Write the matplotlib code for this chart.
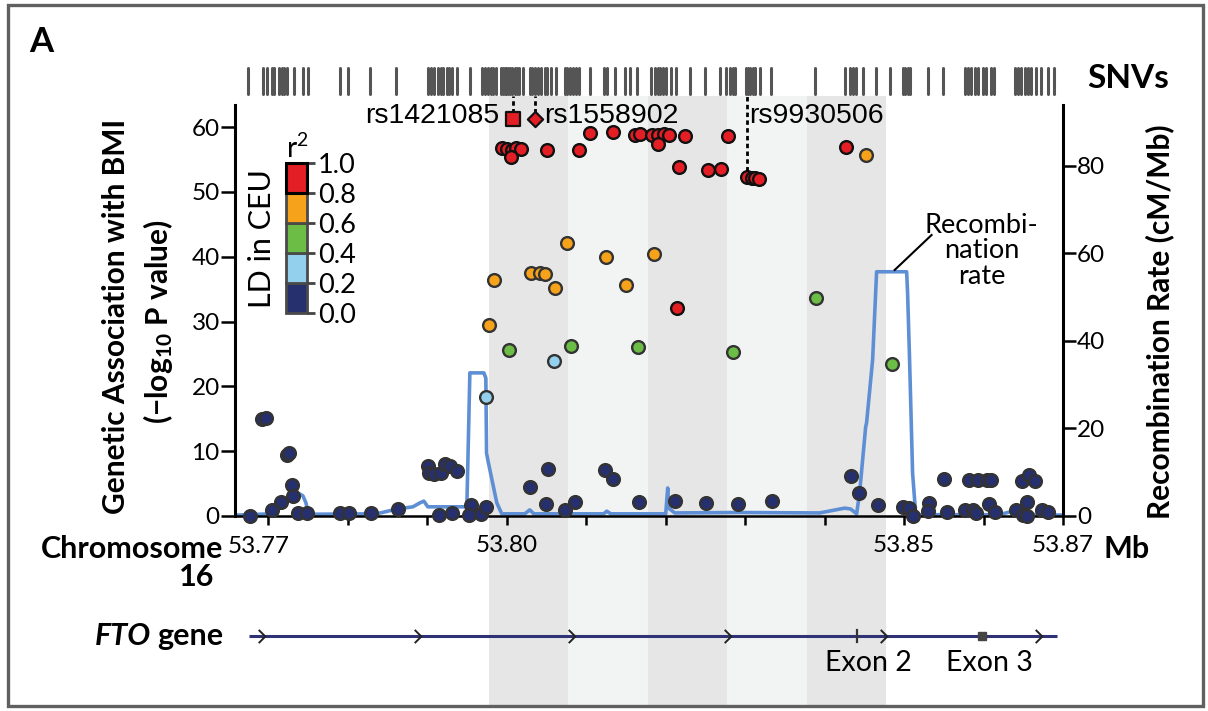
import matplotlib
matplotlib.use("Agg")
import matplotlib.pyplot as plt
from matplotlib.patches import Rectangle
from matplotlib.path import Path
import numpy as np

# ---------------- data ----------------
snv_positions = [53.76746, 53.76935, 53.76977, 53.77040, 53.77069, 53.77136, 53.77166, 53.77195,
                 53.77229, 53.77321, 53.77430, 53.77501, 53.77899, 53.78004, 53.78277, 53.78604,
                 53.79010, 53.79044, 53.79082, 53.79136, 53.79166, 53.79199, 53.79241, 53.79270,
                 53.79304, 53.79367, 53.79535, 53.79682, 53.79723, 53.79765, 53.79795, 53.79828,
                 53.79870, 53.79933, 53.79953, 53.79975, 53.79996, 53.80016, 53.80038, 53.80059,
                 53.80101, 53.80130, 53.80155, 53.80205, 53.80289, 53.80318, 53.80352, 53.80394,
                 53.80436, 53.80478, 53.80507, 53.80562, 53.80616, 53.80730, 53.80759, 53.80792,
                 53.80834, 53.80877, 53.80909, 53.81044, 53.81220, 53.81267, 53.81358, 53.81484,
                 53.81547, 53.81639, 53.81820, 53.81862, 53.81903, 53.81933, 53.81966, 53.82009,
                 53.82063, 53.82135, 53.82302, 53.82491, 53.82679, 53.82764, 53.82805, 53.82847,
                 53.82868, 53.83015, 53.83035, 53.83066, 53.83098, 53.83120, 53.83182, 53.83330,
                 53.83874, 53.84252, 53.84315, 53.84356, 53.84399, 53.84482, 53.84650, 53.84827,
                 53.84985, 53.85015, 53.85048, 53.85078, 53.85300, 53.85488, 53.85761, 53.85803,
                 53.85845, 53.85887, 53.85929, 53.85991, 53.86034, 53.86097, 53.86126, 53.86390,
                 53.86432, 53.86474, 53.86516, 53.86557, 53.86600, 53.86663, 53.86726, 53.86809,
                 53.86893]

# r2 0.8-1.0
red_pos = [53.79937, 53.80000, 53.80063, 53.80113, 53.80176, 53.80050, 53.80503, 53.80906,
           53.81044, 53.81333, 53.81610, 53.81673, 53.81824, 53.81899, 53.81975, 53.82038,
           53.81899, 53.82239, 53.82164, 53.82528, 53.82692, 53.82780, 53.83019, 53.83082,
           53.83120, 53.83170, 53.84264, 53.82138]
red_logp = [56.8, 56.6, 56.5, 56.8, 56.6, 55.4, 56.5, 56.5,
            59.1, 59.3, 58.8, 58.9, 58.8, 58.8, 58.9, 58.8,
            57.4, 58.6, 53.9, 53.4, 53.5, 58.6, 52.3, 52.2,
            52.2, 52.0, 56.9, 32.1]
# r2 0.6-0.8
orange_pos = [53.84516, 53.80755, 53.81245, 53.81849, 53.80302, 53.80415, 53.80478, 53.79836,
              53.80604, 53.81497, 53.79774]
orange_logp = [55.7, 42.1, 40.0, 40.4, 37.5, 37.5, 37.3, 36.4, 35.2, 35.6, 29.5]
# r2 0.4-0.6
green_pos = [53.80025, 53.80805, 53.81648, 53.82843, 53.83887, 53.84843]
green_logp = [25.6, 26.2, 26.1, 25.3, 33.6, 23.5]
# r2 0.2-0.4
lblue_pos = [53.80591, 53.79736]
lblue_logp = [23.9, 18.4]
# r2 0.0-0.2
navy_pos = [53.76767, 53.76918, 53.76968, 53.77233, 53.77258, 53.77296, 53.77157, 53.77044,
            53.77308, 53.77371, 53.77484, 53.77899, 53.78013, 53.78289, 53.78629, 53.79006,
            53.79019, 53.79082, 53.79170, 53.79220, 53.79283, 53.79371, 53.79145, 53.79308,
            53.79547, 53.79522, 53.79673, 53.79736, 53.80289, 53.80516, 53.80491, 53.80730,
            53.80855, 53.81233, 53.81333, 53.81660, 53.82113, 53.82503, 53.82906, 53.83333,
            53.84327, 53.84428, 53.84667, 53.84981, 53.85057, 53.85107, 53.85308, 53.85296,
            53.85497, 53.85535, 53.85811, 53.85925, 53.86038, 53.86088, 53.85761, 53.85862,
            53.85900, 53.86063, 53.86138, 53.86403, 53.86491, 53.86541, 53.86478, 53.86566,
            53.86642, 53.86541, 53.86730, 53.86805]
navy_logp = [0.0, 15.0, 15.1, 9.4, 9.7, 4.8, 2.2, 0.9,
             3.1, 0.5, 0.5, 0.5, 0.5, 0.5, 1.1, 7.7,
             6.6, 6.5, 6.6, 8.0, 7.7, 6.9, 0.2, 0.5,
             1.7, 0.2, 0.3, 1.4, 4.5, 7.3, 1.9, 0.9,
             2.2, 7.1, 5.7, 2.2, 2.3, 2.0, 1.9, 2.3,
             6.2, 3.5, 1.7, 1.4, 1.2, 0.0, 2.0, 0.8,
             5.7, 0.6, 5.6, 5.6, 5.6, 5.6, 0.9, 0.9,
             0.5, 1.9, 0.6, 0.9, 0.2, 0.0, 5.4, 6.3,
             5.4, 2.2, 0.9, 0.6]

lead_names = ["rs1421085", "rs1558902", "rs9930506"]
lead_pos = [53.80075, 53.80352, 53.83019]
lead_logp = [61.3, 61.3, 52.3]

recomb_pos = [53.76591, 53.77044, 53.77145, 53.77220, 53.77296, 53.77396, 53.77434, 53.77472,
              53.77497, 53.77535, 53.78365, 53.78616, 53.78818, 53.78906, 53.78956, 53.79006,
              53.79497, 53.79535, 53.79711, 53.79736, 53.79745, 53.79761, 53.79874, 53.79937,
              53.80226, 53.80289, 53.80340, 53.81220, 53.81258, 53.81308, 53.82000, 53.82025,
              53.82038, 53.82113, 53.82906, 53.83937, 53.84252, 53.84327, 53.84403, 53.84440,
              53.84516, 53.84528, 53.84604, 53.84654, 53.85032, 53.85044, 53.85069, 53.85107,
              53.85145, 53.85195, 53.86201, 53.86365, 53.86453, 53.86994]
recomb_rate = [0.2, 0.5, 1.8, 3.7, 5.3, 5.0, 4.6, 3.0,
               0.9, 0.4, 0.5, 1.6, 2.1, 3.0, 3.4, 2.1,
               2.1, 32.7, 32.7, 31.5, 14.4, 12.8, 3.0, 0.5,
               0.5, 1.4, 0.5, 0.5, 1.1, 0.5, 0.5, 6.4,
               1.8, 0.7, 0.8, 0.7, 1.8, 1.6, 0.5, 5.3,
               20.3, 21.3, 35.7, 55.8, 55.8, 51.0, 35.7, 9.8,
               0.7, 0.3, 0.3, 1.1, 0.4, 0.2]

band_edges = [53.79774, 53.80767, 53.81774, 53.82767, 53.83774, 53.84767]
band_colors = ["#e6e6e6", "#f2f3f3", "#e6e6e6", "#f2f3f3", "#e6e6e6"]

x_ticks = [53.77, 53.78, 53.79, 53.80, 53.81, 53.82, 53.83, 53.84, 53.85, 53.86, 53.87]
x_ticklabels = ["", "", "", "53.80", "", "", "", "", "53.85", "", "53.87"]
y_ticks = [0, 10, 20, 30, 40, 50, 60]
y2_ticks = [0, 20, 40, 60, 80]

gene_start, gene_end = 53.7675, 53.8693
gene_arrows = [53.76918, 53.78881, 53.80818, 53.82780, 53.84742, 53.86704]
exon2_pos, exon3_pos = 53.84403, 53.85975

legend_colors = ["#27306e", "#92d0ee", "#6cbd45", "#f7a21b", "#e31e24"]  # bottom -> top
legend_ticks = [0.0, 0.2, 0.4, 0.6, 0.8, 1.0]
legend_ticklabels = ["0.0", "0.2", "0.4", "0.6", "0.8", "1.0"]

# ---------------- layout ----------------
W, H = 1208, 711
plt.rcParams["font.family"] = ["Lato", "DejaVu Sans"]
plt.rcParams["mathtext.default"] = "regular"
fig = plt.figure(figsize=(W / 100, H / 100), dpi=100)


def fx(px):
    return px / W


def fy(py):
    return 1 - py / H


XMIN, XMAX = 53.76579, 53.87
AX_L, AX_R = 235, 1063
ax_w = fx(AX_R) - fx(AX_L)
BOLD = 21.5

# background bands
bg = fig.add_axes([fx(AX_L), fy(705), ax_w, fy(96) - fy(705)], zorder=-5)
bg.set_xlim(XMIN, XMAX)
bg.axis("off")
for i, c in enumerate(band_colors):
    bg.axvspan(band_edges[i], band_edges[i + 1], color=c, lw=0)

# SNV strip
snv = fig.add_axes([fx(AX_L), fy(96), ax_w, fy(66) - fy(96)], zorder=1)
snv.set_xlim(XMIN, XMAX)
snv.set_ylim(0, 1)
snv.axis("off")
lc = snv.vlines(snv_positions, 0.08, 0.92, color="#555555", lw=2.2)
lc.set_capstyle("round")
fig.text(fx(1087), fy(79), "SNVs", ha="left", va="center", fontsize=24, fontweight="bold")

# main axes
ax = fig.add_axes([fx(AX_L), fy(516), ax_w, fy(105) - fy(516)], zorder=3)
ax.patch.set_visible(False)
ax2 = ax.twinx()
ax2.set_zorder(2)
ax2.patch.set_visible(False)
ax.set_xlim(XMIN, XMAX)
ax.set_ylim(0, 63.4)
ax2.set_ylim(0, 93.9)

ax2.plot(recomb_pos, recomb_rate, color="#5e8fd4", lw=2.6, solid_joinstyle="round")

ms = 84
ax.scatter(navy_pos, navy_logp, s=ms, c="#27306e", edgecolors="#333333", linewidths=1.7, clip_on=False, zorder=3)
ax.scatter(lblue_pos, lblue_logp, s=ms, c="#92d0ee", edgecolors="#333333", linewidths=1.7, clip_on=False, zorder=4)
ax.scatter(green_pos, green_logp, s=ms, c="#6cbd45", edgecolors="#333333", linewidths=1.7, clip_on=False, zorder=4)
ax.scatter(orange_pos, orange_logp, s=ms, c="#f7a21b", edgecolors="#333333", linewidths=1.7, clip_on=False, zorder=4)
ax.scatter(red_pos, red_logp, s=ms, c="#e31e24", edgecolors="#111111", linewidths=1.7, clip_on=False, zorder=5)

# lead SNVs
ax.scatter([lead_pos[0]], [lead_logp[0]], marker="s", s=95, c="#e31e24", edgecolors="#111111",
           linewidths=1.6, clip_on=False, zorder=6)
ax.scatter([lead_pos[1]], [lead_logp[1]], marker="D", s=60, c="#e31e24", edgecolors="#111111",
           linewidths=1.6, clip_on=False, zorder=6)
top_y = 64.8
for p, v in zip(lead_pos, lead_logp):
    ax.plot([p, p], [v + 0.9, top_y], color="black", lw=2, ls=(0, (1.6, 1.2)), clip_on=False, zorder=5)
RS = 20.5
ax.annotate(lead_names[0], xy=(lead_pos[0], 61.7), xytext=(-10, 0), textcoords="offset points",
            ha="right", va="center", fontsize=RS, family=["Liberation Sans"], annotation_clip=False)
ax.annotate(lead_names[1], xy=(lead_pos[1], 61.7), xytext=(7, 0), textcoords="offset points",
            ha="left", va="center", fontsize=RS, family=["Liberation Sans"], annotation_clip=False)
ax.annotate(lead_names[2], xy=(lead_pos[2], 61.7), xytext=(2, 0), textcoords="offset points",
            ha="left", va="center", fontsize=RS, family=["Liberation Sans"], annotation_clip=False)

# recombination label
ax2.text(53.85975, 60.6, "Recombi-\nnation\nrate", ha="center", va="center", fontsize=19.5,
         linespacing=1.02)
ax2.plot([53.84881, 53.85346], [56.2, 64.2], color="black", lw=1.5)

# axes styling
ax.spines["top"].set_visible(False)
ax2.spines["top"].set_visible(False)
ax.spines["right"].set_visible(False)
ax2.spines["left"].set_visible(False)
ax2.spines["bottom"].set_visible(False)
ax.spines["left"].set_linewidth(2.2)
ax.spines["bottom"].set_linewidth(1.8)
ax2.spines["right"].set_linewidth(2.2)

ax.set_xticks(x_ticks)
ax.set_xticklabels(x_ticklabels)
ax.set_yticks(y_ticks)
ax2.set_yticks(y2_ticks)
ax.tick_params(axis="x", direction="out", length=6.5, width=1.8, pad=7, labelsize=17.5)
ax.tick_params(axis="y", direction="out", length=10, width=1.8, pad=1, labelsize=17.5)
ax2.tick_params(axis="y", direction="out", length=9, width=1.8, pad=1, labelsize=17.5)
ax.annotate("53.77", xy=(53.77, 0), xycoords=("data", "axes fraction"), xytext=(-7, -14.5),
            textcoords="offset points", ha="center", va="top", fontsize=17.5)

fig.text(fx(116), fy(316), "Genetic Association with BMI", rotation=90, ha="center", va="center",
         fontsize=BOLD, fontweight="bold")
fig.text(fx(158), fy(322), "(\u2212log$_{10}$ P value)", rotation=90, ha="center", va="center",
         fontsize=BOLD, fontweight="bold")
fig.text(fx(1160), fy(322), "Recombination Rate (cM/Mb)", rotation=90, ha="center", va="center",
         fontsize=BOLD, fontweight="bold")
fig.text(fx(223), fy(549), "Chromosome", ha="right", va="center", fontsize=22, fontweight="bold")
fig.text(fx(214), fy(577), "16", ha="right", va="center", fontsize=22, fontweight="bold")
fig.text(fx(1103), fy(549), "Mb", ha="left", va="center", fontsize=22, fontweight="bold")

# legend colour bar
leg = fig.add_axes([fx(286), fy(313), fx(307) - fx(286), fy(163) - fy(313)], zorder=6)
leg.set_xlim(0, 1)
leg.set_ylim(0, 1)
for i, c in enumerate(legend_colors):
    leg.add_patch(Rectangle((0, i * 0.2), 1, 0.2, facecolor=c, edgecolor="#4a4a4a", lw=2, clip_on=False))
leg.add_patch(Rectangle((0, 0.8), 1, 0.2, facecolor=legend_colors[-1], edgecolor="black", lw=2.2,
                        clip_on=False, zorder=5))
for s in leg.spines.values():
    s.set_visible(False)
leg.set_xticks([])
leg.yaxis.tick_right()
leg.set_yticks(legend_ticks)
leg.set_yticklabels(legend_ticklabels)
leg.tick_params(axis="y", length=6, width=2, color="#444444", pad=2, labelsize=19.5)
fig.text(fx(297), fy(148), "r$^2$", ha="center", va="center", fontsize=20)
fig.text(fx(262), fy(239), "LD in CEU", rotation=90, ha="center", va="center", fontsize=22)

# gene track
gene = fig.add_axes([fx(AX_L), fy(690), ax_w, fy(600) - fy(690)], zorder=1)
gene.set_xlim(XMIN, XMAX)
gene.set_ylim(0, 1)
gene.axis("off")
gene.plot([gene_start, gene_end], [0.6, 0.6], color="#2f3274", lw=2.2, solid_capstyle="butt")
chevron = Path([(-0.4, 0.7), (0.3, 0.0), (-0.4, -0.7)], [Path.MOVETO, Path.LINETO, Path.LINETO])
gene.plot(gene_arrows, [0.6] * len(gene_arrows), ls="none", marker=chevron, ms=9.5,
          mfc="none", mec="#222222", mew=1.4)
gene.plot([exon2_pos, exon2_pos], [0.53, 0.67], color="#333333", lw=1.6)
gene.plot([exon3_pos], [0.6], ls="none", marker="s", ms=6, color="#444444")
gene.text(53.84555, 0.30, "Exon 2", ha="center", va="center", fontsize=20.5)
gene.text(53.86076, 0.30, "Exon 3", ha="center", va="center", fontsize=20.5)
t_gene = fig.text(fx(223), fy(636), "gene", ha="right", va="center", fontsize=22, fontweight="bold")
fig.canvas.draw()
gene_w = t_gene.get_window_extent().width
fig.text(fx(223 - gene_w - 6), fy(636), "FTO", ha="right", va="center", fontsize=22,
         fontweight="bold", style="italic")

# panel letter and frame
fig.text(fx(29), fy(42), "A", ha="left", va="center", fontsize=25, fontweight="bold")
fig.patches.append(Rectangle((fx(8), fy(706)), fx(1203) - fx(8), fy(5) - fy(706),
                             transform=fig.transFigure, fill=False, ec="#606060", lw=2.4))

fig.savefig("out.png", dpi=100)
